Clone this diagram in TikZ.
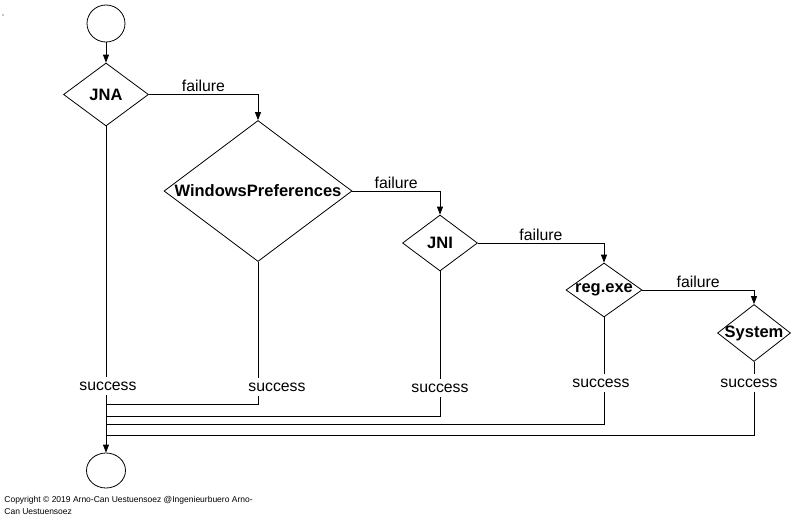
\documentclass[tikz,border=0pt]{standalone}
\usepackage{fontspec}
\setmainfont{Liberation Sans}
\usetikzlibrary{shapes.geometric,arrows.meta}
\begin{document}
\begin{tikzpicture}[x=1pt,y=-1pt,
  every path/.style={line width=0.8pt},
  term/.style={ellipse,draw,inner sep=0pt,minimum width=38pt,minimum height=37pt},
  dec/.style={diamond,draw,inner sep=0pt,font=\fontsize{16.5}{19}\selectfont\bfseries},
  lab/.style={font=\fontsize{15.8}{18}\selectfont,inner sep=2pt},
  slab/.style={font=\fontsize{15.8}{18}\selectfont,inner sep=2pt,text height=11pt,text depth=3pt},
  arr/.style={-{Triangle[length=8pt,width=6pt]}},
  copy/.style={font=\fontsize{8.5}{12}\selectfont,align=left,inner sep=0pt,anchor=north west}]
\useasboundingbox[fill=white] (0,0) rectangle (797,522);
\node[circle,fill,inner sep=0pt,minimum size=1.2pt] (dot) at (3,15) {};
% terminals
\node[term] (start) at (106,23.5) {};
\node[term,minimum width=39pt,minimum height=35pt] (end) at (106,470.5) {};
% decisions
\node[dec,minimum width=85pt,minimum height=63pt] (jna) at (106,94.5) {\makebox[0pt]{JNA}};
\node[dec,minimum width=188pt,minimum height=141pt] (wp) at (258,191) {\makebox[0pt]{WindowsPreferences}};
\node[dec,minimum width=75pt,minimum height=56pt] (jni) at (440,243) {\makebox[0pt]{JNI}};
\node[dec,minimum width=76pt,minimum height=54pt] (reg) at (604,290) {\makebox[0pt]{reg.exe}};
\node[dec,minimum width=73pt,minimum height=57pt] (sys) at (754,333) {\makebox[0pt]{System}};
% success labels
\node[slab] (s1) at (108,386) {success};
\node[slab] (s2) at (277,387) {success};
\node[slab] (s3) at (440,388) {success};
\node[slab] (s4) at (601,383) {success};
\node[slab] (s5) at (749,383) {success};
% merge points
\coordinate (m2) at (106,404);
\coordinate (m3) at (106,416);
\coordinate (m4) at (106,424);
\coordinate (m5) at (106,435);
% flow
\draw[arr] (start) -- (jna.north);
\draw[arr] (jna.east) -| node[lab,above,pos=0.25] {failure} (wp.north);
\draw[arr] (wp.east) -| node[lab,above,pos=0.25] {failure} (jni.north);
\draw[arr] (jni.east) -| node[lab,above,pos=0.25] {failure} (reg.north);
\draw[arr] (reg.east) -| node[lab,above,pos=0.25] {failure} (sys.north);
% success paths
\draw (jna.south) -- (jna.south |- s1.north);
\draw[arr] (jna.south |- s1.south) -- (end.north);
\draw (wp.south) -- (wp.south |- s2.north);
\draw (wp.south |- s2.south) |- (m2);
\draw (jni.south) -- (jni.south |- s3.north);
\draw (jni.south |- s3.south) |- (m3);
\draw (reg.south) -- (reg.south |- s4.north);
\draw (reg.south |- s4.south) |- (m4);
\draw (sys.south) -- (sys.south |- s5.north);
\draw (sys.south |- s5.south) |- (m5);
% copyright
\node[copy] (cr) at (4,496) {Copyright © 2019 Arno-Can Uestuensoez @Ingenieurbuero Arno-\\Can Uestuensoez};
\end{tikzpicture}
\end{document}
